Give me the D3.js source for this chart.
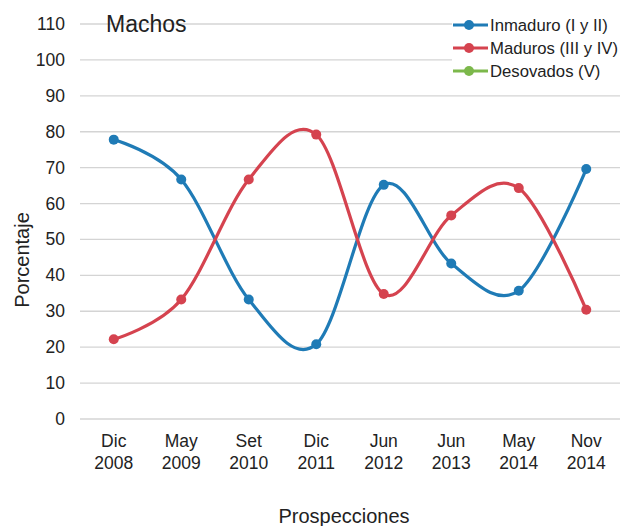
<!DOCTYPE html>
<html lang="es">
<head>
<meta charset="utf-8">
<title>Machos</title>
<script src="https://d3js.org/d3.v7.min.js"></script>
<style>
  body { margin: 0; background: #fff; }
  text { font-family: "Liberation Sans", Arial, sans-serif; fill: #222; }
</style>
</head>
<body>
<svg width="630" height="526"></svg>
<script>
// data
var months = ["Dic", "May", "Set", "Dic", "Jun", "Jun", "May", "Nov"];
var years = ["2008", "2009", "2010", "2011", "2012", "2013", "2014", "2014"];
var inmaduro = [77.8, 66.7, 33.3, 20.8, 65.2, 43.3, 35.7, 69.6];
var maduros = [22.2, 33.3, 66.7, 79.2, 34.8, 56.7, 64.3, 30.4];
var desovados = [];
var yTicks = [0, 10, 20, 30, 40, 50, 60, 70, 80, 90, 100, 110];

var seriesNames = ["Inmaduro (I y II)", "Maduros (III y IV)", "Desovados (V)"];
var seriesData = [inmaduro, maduros, desovados];
var colors = ["#1f7bb6", "#d5434f", "#7cb84b"];

var svg = d3.select("svg");
var plotLeft = 80, plotRight = 620, plotTop = 24, plotBottom = 419;

var x = d3.scaleBand()
    .domain(d3.range(months.length))
    .range([plotLeft, plotRight]);

var y = d3.scaleLinear()
    .domain([0, 110])
    .range([plotBottom, plotTop]);

// gridlines
svg.append("g")
    .selectAll("line")
    .data(yTicks)
    .enter()
    .append("line")
    .attr("x1", plotLeft)
    .attr("x2", plotRight)
    .attr("y1", function(d){ return y(d); })
    .attr("y2", function(d){ return y(d); })
    .attr("stroke", "#d4d4d4")
    .attr("stroke-width", 1.3);

// y tick labels
svg.append("g")
    .selectAll("text")
    .data(yTicks)
    .enter()
    .append("text")
    .attr("x", 65)
    .attr("y", function(d){ return y(d) + 6; })
    .attr("text-anchor", "end")
    .style("font-size", "17.5px")
    .text(function(d){ return d; });

// x tick labels (two lines)
var xl = svg.append("g")
    .selectAll("text")
    .data(months)
    .enter()
    .append("text")
    .attr("text-anchor", "middle")
    .style("font-size", "17.5px");
xl.append("tspan")
    .attr("x", function(d, i){ return x(i) + x.bandwidth() / 2; })
    .attr("y", 447)
    .text(function(d){ return d; });
xl.append("tspan")
    .attr("x", function(d, i){ return x(i) + x.bandwidth() / 2; })
    .attr("y", 469)
    .text(function(d, i){ return years[i]; });

// axis titles
svg.append("text")
    .attr("x", 344)
    .attr("y", 523)
    .attr("text-anchor", "middle")
    .style("font-size", "20px")
    .text("Prospecciones");

svg.append("text")
    .attr("transform", "translate(29,260) rotate(-90)")
    .attr("text-anchor", "middle")
    .style("font-size", "20px")
    .text("Porcentaje");

svg.append("text")
    .attr("x", 106)
    .attr("y", 32)
    .style("font-size", "23px")
    .text("Machos");

// lines
var line = d3.line()
    .x(function(d, i){ return x(i) + x.bandwidth() / 2; })
    .y(function(d){ return y(d); })
    .curve(d3.curveCardinal.tension(0));

seriesData.forEach(function(values, k) {
    if (!values.length) return;
    svg.append("path")
        .datum(values)
        .attr("d", line)
        .attr("fill", "none")
        .attr("stroke", colors[k])
        .attr("stroke-width", 3.2);
    svg.append("g")
        .selectAll("circle")
        .data(values)
        .enter()
        .append("circle")
        .attr("cx", function(d, i){ return x(i) + x.bandwidth() / 2; })
        .attr("cy", function(d){ return y(d); })
        .attr("r", 5)
        .attr("fill", colors[k]);
});

// legend
var legend = svg.append("g");
legend.append("rect")
    .attr("x", 452)
    .attr("y", 12)
    .attr("width", 172)
    .attr("height", 72)
    .attr("fill", "#fff");

var rows = legend.selectAll("g.row")
    .data(seriesNames)
    .enter()
    .append("g")
    .attr("class", "row")
    .attr("transform", function(d, i){ return "translate(0," + (25 + i * 23) + ")"; });
rows.append("line")
    .attr("x1", 453)
    .attr("x2", 488)
    .attr("stroke", function(d, i){ return colors[i]; })
    .attr("stroke-width", 3.2);
rows.append("circle")
    .attr("cx", 469)
    .attr("r", 5)
    .attr("fill", function(d, i){ return colors[i]; });
rows.append("text")
    .attr("x", 490)
    .attr("y", 6)
    .style("font-size", "16.7px")
    .text(function(d){ return d; });
</script>
</body>
</html>
